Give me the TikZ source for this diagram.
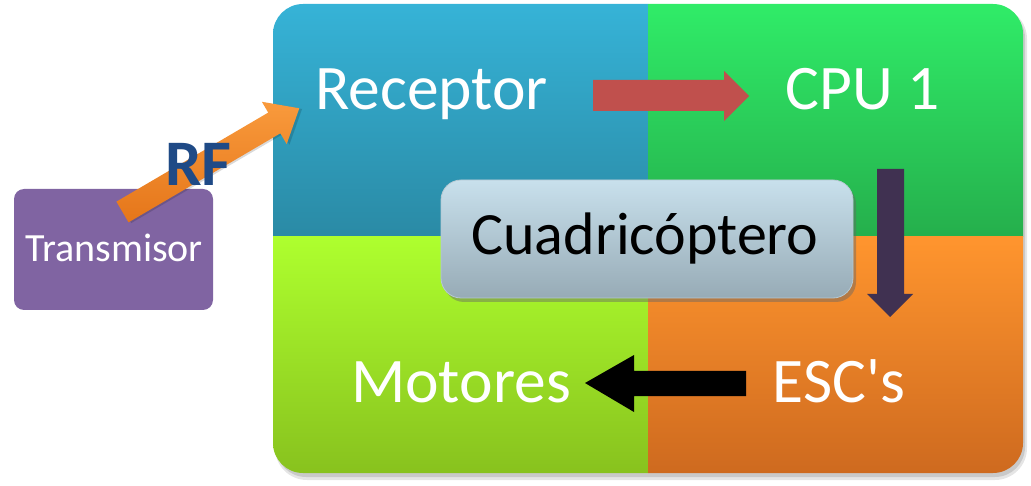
\documentclass[tikz,border=0pt]{standalone}
\usepackage{fontspec}
\setmainfont{Carlito}
\usetikzlibrary{shadows}
\definecolor{tlTop}{HTML}{36B3D7}
\definecolor{tlBot}{HTML}{2A8AA5}
\definecolor{trTop}{HTML}{30EC68}
\definecolor{trBot}{HTML}{25AF4C}
\definecolor{blTop}{HTML}{AEFF2E}
\definecolor{blBot}{HTML}{88C21E}
\definecolor{brTop}{HTML}{FF952E}
\definecolor{brBot}{HTML}{CE6A1F}
\definecolor{arrowred}{HTML}{C0504D}
\definecolor{arrowpurple}{HTML}{403151}
\definecolor{orangeA}{HTML}{F99A3C}
\definecolor{orangeB}{HTML}{E5761A}
\definecolor{transpurple}{HTML}{8064A2}
\definecolor{rfblue}{HTML}{1F4A86}
\definecolor{quadTop}{HTML}{C8E0EC}
\definecolor{quadBot}{HTML}{97ABB6}
\definecolor{quadEdge}{HTML}{B5C9D3}
\newcommand{\straightquote}{\XeTeXglyph\XeTeXcharglyph"0027\relax}
\tikzset{
  lbl/.style={font=\fontsize{63.5}{64}\selectfont, text=white, anchor=base, inner sep=0pt},
  quadbox/.style={rounded corners=20pt, minimum width=412pt, minimum height=118pt,
    top color=quadTop, bottom color=quadBot, draw=quadEdge, line width=0.8pt,
    drop shadow={shadow xshift=3pt, shadow yshift=-4pt, opacity=0.45, fill=black!60}},
  transbox/.style={rounded corners=10pt, minimum width=199pt, minimum height=121pt,
    fill=transpurple, inner sep=0pt},
}
\begin{document}
\begin{tikzpicture}[x=1pt,y=1pt]
\useasboundingbox (0,0) rectangle (1031,485);
% outer shadow
\fill[black,opacity=0.10,rounded corners=32pt] (275,5) rectangle (1027,478);
\fill[black,opacity=0.12,rounded corners=30pt] (276,8) rectangle (1025,477);
% quadrants
\begin{scope}
\clip[rounded corners=30pt] (273,12) rectangle (1023,481);
\shade[top color=tlTop,bottom color=tlBot] (273,248) rectangle (648,481);
\shade[top color=trTop,bottom color=trBot] (648,248) rectangle (1023,481);
\shade[top color=blTop,bottom color=blBot] (273,12) rectangle (648,248);
\shade[top color=brTop,bottom color=brBot] (648,12) rectangle (1023,248);
\end{scope}
% labels
\node[lbl] (receptor) at (431.5,375) {Receptor};
\node[lbl] (cpu) at (862.5,375) {CPU 1};
\node[lbl] (motores) at (461,82) {Motores};
\node[lbl] (escs) at (839,82) {ESC\straightquote s};
% block arrows
\fill[arrowred] (593,374) -- (724,374) -- (724,364) -- (749,389) -- (724,414) -- (724,405) -- (593,405) -- cycle;
\fill[arrowpurple] (877,316) -- (904,316) -- (904,191) -- (913,191) -- (890,168) -- (867,191) -- (877,191) -- cycle;
\fill[black] (746,114) -- (634,114) -- (634,130) -- (585,102) -- (634,73) -- (634,89) -- (746,89) -- cycle;
% center box
\node[quadbox] (quad) at (647,246) {};
\node[anchor=base, inner sep=0pt, font=\fontsize{60}{60}\selectfont] (quadtext) at (645,230) {Cuadricóptero};
% transmitter
\node[transbox] (trans) at (113.5,235.5) {};
\node[anchor=base, inner sep=0pt, text=white, font=\fontsize{40}{40}\selectfont] (transtext) at (114,223) {Transmisor};
% RF arrow
\begin{scope}[shift={(122.5,273)}, rotate=30.4]
\fill[black,opacity=0.15] (2,-14) -- (178,-14) -- (178,-26.5) -- (207,-2) -- (178,22.5) -- (178,10) -- (2,10) -- cycle;
\shade[top color=orangeA, bottom color=orangeB] (0,-12) -- (176,-12) -- (176,-24.5) -- (205,0) -- (176,24.5) -- (176,12) -- (0,12) -- cycle;
\end{scope}
\node[anchor=base, inner sep=0pt, text=rfblue, font=\bfseries\fontsize{65}{65}\selectfont] (rf) at (198.5,299) {RF};
\end{tikzpicture}
\end{document}
